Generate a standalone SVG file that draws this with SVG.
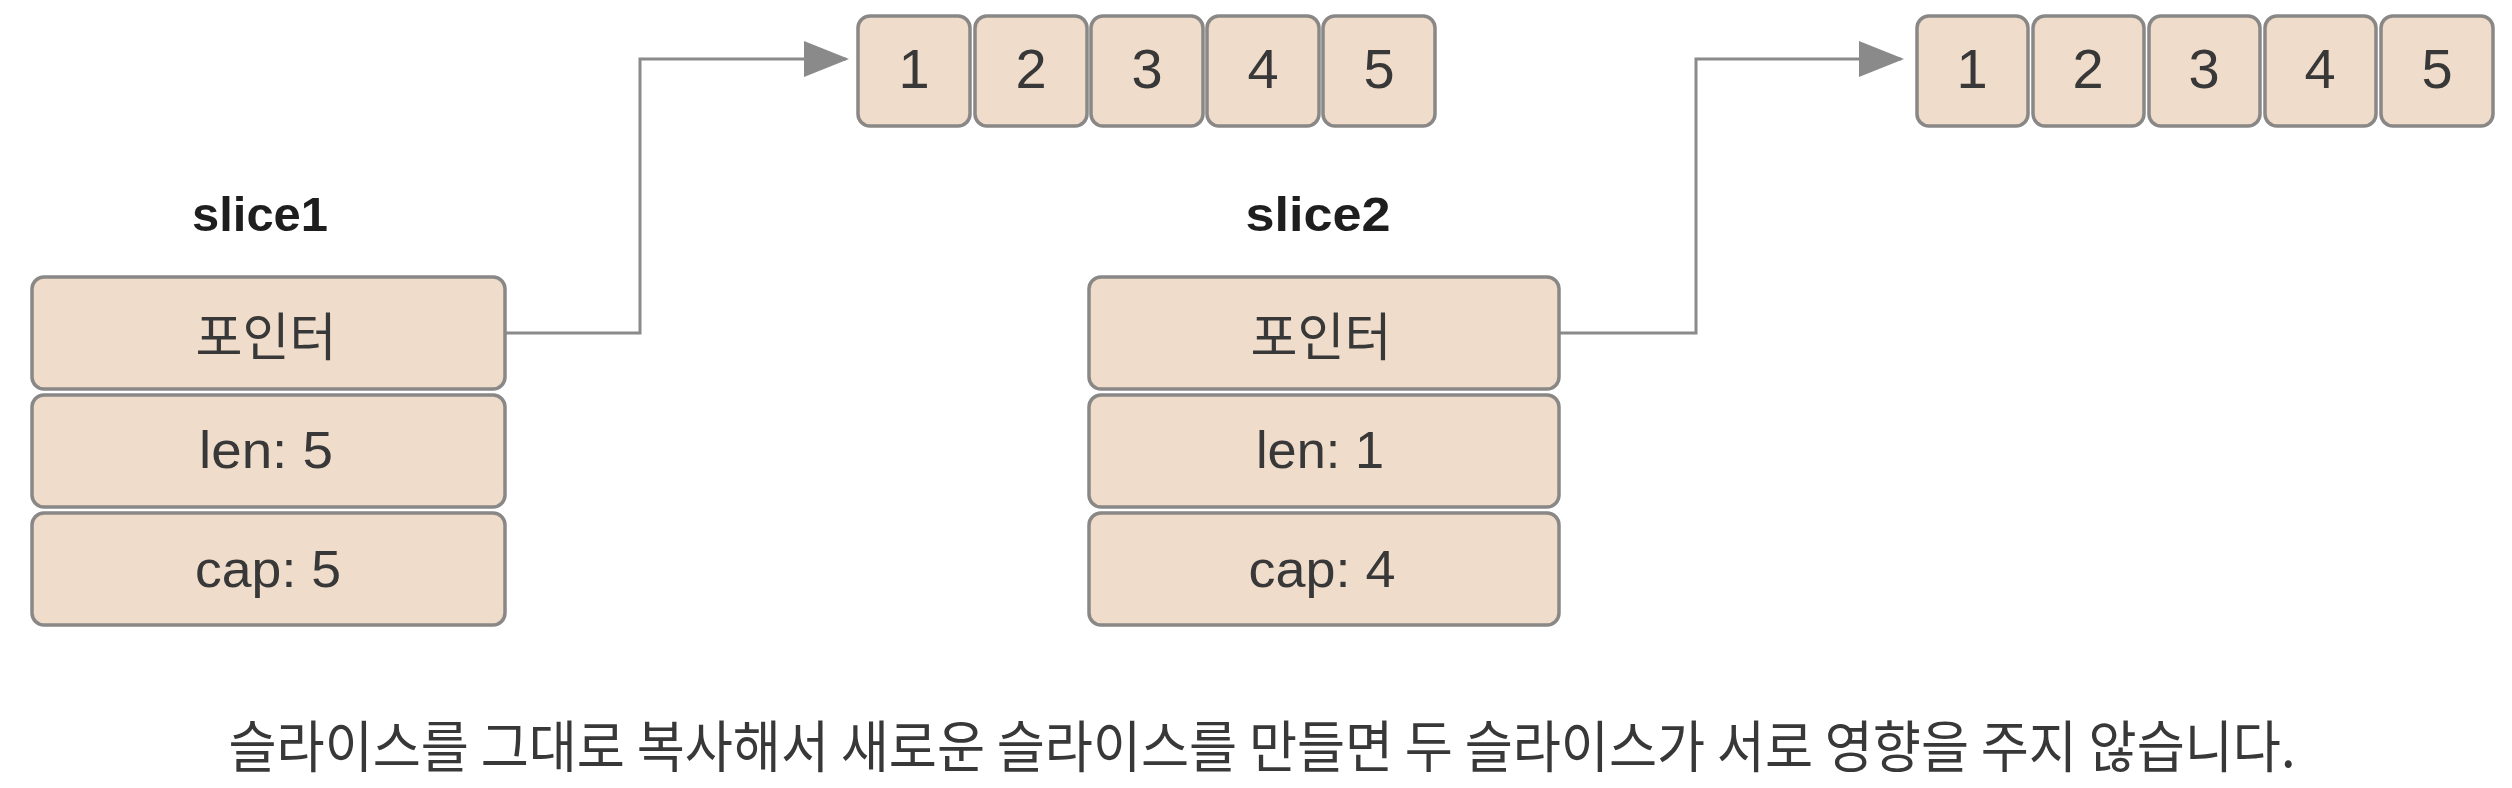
<svg xmlns="http://www.w3.org/2000/svg" width="2512" height="788" viewBox="0 0 2512 788">
<style>
.box{fill:#efdccb;stroke:#8a8886;stroke-width:3.5}
.lbl{font-family:"Liberation Sans","Noto Sans CJK KR",sans-serif;fill:#383838;text-anchor:middle}
.kr{font-family:"Noto Sans CJK KR","Liberation Sans",sans-serif;fill:#383838;text-anchor:middle}
.title{font-family:"Liberation Sans",sans-serif;font-weight:bold;fill:#1e1e1e;text-anchor:middle;font-size:49px}
.conn{fill:none;stroke:#8a8a8a;stroke-width:3}
</style>
<defs>
<marker id="arr" markerWidth="15" markerHeight="12" refX="14" refY="6" orient="auto" markerUnits="strokeWidth">
<path d="M0,0 L15,6 L0,12 Z" fill="#8a8a8a"/>
</marker>
</defs>
<rect width="2512" height="788" fill="#ffffff"/>

<g id="connectors">
<path class="conn" d="M505,333 H640 V59 H846" marker-end="url(#arr)"/>
<path class="conn" d="M1559,333 H1696 V59 H1901" marker-end="url(#arr)"/>
</g>

<g id="slice1">
<text class="title" x="260" y="231" textLength="136" lengthAdjust="spacingAndGlyphs">slice1</text>
<g id="slice1-pointer"><rect class="box" x="32" y="277" width="473" height="112" rx="12"/><text class="kr" x="266" y="356" font-size="52" textLength="141" lengthAdjust="spacingAndGlyphs">포인터</text></g>
<g id="slice1-len"><rect class="box" x="32" y="395" width="473" height="112" rx="12"/><text class="lbl" x="266" y="468" font-size="52" textLength="134" lengthAdjust="spacingAndGlyphs">len: 5</text></g>
<g id="slice1-cap"><rect class="box" x="32" y="513" width="473" height="112" rx="12"/><text class="lbl" x="268" y="587" font-size="52" textLength="146" lengthAdjust="spacingAndGlyphs">cap: 5</text></g>
</g>

<g id="array1">
<g id="a1-1"><rect class="box" x="858" y="16" width="112" height="110" rx="12"/><text class="lbl" x="914" y="88" font-size="56">1</text></g>
<g id="a1-2"><rect class="box" x="975" y="16" width="112" height="110" rx="12"/><text class="lbl" x="1031" y="88" font-size="56">2</text></g>
<g id="a1-3"><rect class="box" x="1091" y="16" width="112" height="110" rx="12"/><text class="lbl" x="1147" y="88" font-size="56">3</text></g>
<g id="a1-4"><rect class="box" x="1207" y="16" width="112" height="110" rx="12"/><text class="lbl" x="1263" y="88" font-size="56">4</text></g>
<g id="a1-5"><rect class="box" x="1323" y="16" width="112" height="110" rx="12"/><text class="lbl" x="1379" y="88" font-size="56">5</text></g>
</g>

<g id="slice2">
<text class="title" x="1318" y="231" textLength="145" lengthAdjust="spacingAndGlyphs">slice2</text>
<g id="slice2-pointer"><rect class="box" x="1089" y="277" width="470" height="112" rx="12"/><text class="kr" x="1321" y="356" font-size="52" textLength="141" lengthAdjust="spacingAndGlyphs">포인터</text></g>
<g id="slice2-len"><rect class="box" x="1089" y="395" width="470" height="112" rx="12"/><text class="lbl" x="1320" y="468" font-size="52" textLength="128" lengthAdjust="spacingAndGlyphs">len: 1</text></g>
<g id="slice2-cap"><rect class="box" x="1089" y="513" width="470" height="112" rx="12"/><text class="lbl" x="1322" y="587" font-size="52" textLength="147" lengthAdjust="spacingAndGlyphs">cap: 4</text></g>
</g>

<g id="array2">
<g id="a2-1"><rect class="box" x="1917" y="16" width="111" height="110" rx="12"/><text class="lbl" x="1972" y="88" font-size="56">1</text></g>
<g id="a2-2"><rect class="box" x="2033" y="16" width="111" height="110" rx="12"/><text class="lbl" x="2088" y="88" font-size="56">2</text></g>
<g id="a2-3"><rect class="box" x="2149" y="16" width="111" height="110" rx="12"/><text class="lbl" x="2204" y="88" font-size="56">3</text></g>
<g id="a2-4"><rect class="box" x="2265" y="16" width="111" height="110" rx="12"/><text class="lbl" x="2320" y="88" font-size="56">4</text></g>
<g id="a2-5"><rect class="box" x="2381" y="16" width="112" height="110" rx="12"/><text class="lbl" x="2437" y="88" font-size="56">5</text></g>
</g>

<g id="caption">
<text class="kr" x="1262" y="767" font-size="56" fill="#3a3a3a" textLength="2067" lengthAdjust="spacingAndGlyphs">슬라이스를 그대로 복사해서 새로운 슬라이스를 만들면 두 슬라이스가 서로 영향을 주지 않습니다.</text>
</g>
</svg>
